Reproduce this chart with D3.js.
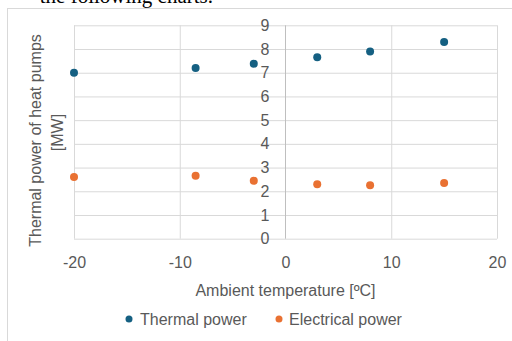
<!DOCTYPE html>
<html>
<head>
<meta charset="utf-8">
<script src="https://cdn.jsdelivr.net/npm/d3@7"></script>
<style>
  html, body { margin: 0; padding: 0; background: #fff; }
  svg { display: block; }
  text { font-family: "Liberation Sans", Arial, sans-serif; fill: #595959; }
</style>
</head>
<body>
<svg id="chart" width="512" height="341"></svg>
<script>
const temps = [-20, -8.5, -3, 3, 8, 15];
const thermalPower = [7.0, 7.2, 7.38, 7.65, 7.9, 8.3];
const electricalPower = [2.6, 2.66, 2.44, 2.3, 2.25, 2.35];
const xTicks = [-20, -10, 0, 10, 20];
const yTicks = [0, 1, 2, 3, 4, 5, 6, 7, 8, 9];
const seriesNames = ["Thermal power", "Electrical power"];
const colors = ["#156082", "#E97132"];

const svg = d3.select("#chart");

// surrounding document text (cut off at the top, as in the source page)
svg.append("text")
  .attr("x", 213).attr("y", 3)
  .attr("text-anchor", "end")
  .style("font-family", "'Liberation Serif', 'Times New Roman', serif")
  .style("font-size", "21px")
  .style("fill", "#000")
  .text("the following charts.");

// chart frame
svg.append("rect")
  .attr("x", 7.5).attr("y", 8.5)
  .attr("width", 520).attr("height", 350)
  .attr("fill", "none").attr("stroke", "#d9d9d9").attr("stroke-width", 1);

const x = d3.scaleLinear().domain([-20, 20]).range([74, 497]);
const y = d3.scaleLinear().domain([0, 9]).range([238.7, 25.3]);

// horizontal gridlines
svg.append("g")
  .attr("transform", `translate(${x(-20)},0)`)
  .call(d3.axisLeft(y).tickValues(yTicks).tickSize(-(x(20) - x(-20))).tickFormat(""))
  .call(g => g.select(".domain").remove())
  .call(g => g.selectAll("line").attr("stroke", "#d9d9d9"));

// vertical gridlines (except 0, which is the axis)
svg.append("g")
  .attr("transform", `translate(0,${y(0)})`)
  .call(d3.axisBottom(x).tickValues(xTicks.filter(d => d !== 0)).tickSize(-(y(0) - y(9))).tickFormat(""))
  .call(g => g.select(".domain").remove())
  .call(g => g.selectAll("line").attr("stroke", "#d9d9d9"));

// y axis line at x = 0
svg.append("line")
  .attr("x1", x(0)).attr("x2", x(0))
  .attr("y1", y(0)).attr("y2", y(9))
  .attr("stroke", "#bfbfbf").attr("stroke-width", 1);

// y tick labels
svg.append("g")
  .attr("transform", `translate(${x(0)},0)`)
  .call(d3.axisLeft(y).tickValues(yTicks).tickSize(0).tickPadding(16).tickFormat(d => String(d)))
  .call(g => g.select(".domain").remove())
  .call(g => g.selectAll("text")
    .style("font-size", "16px")
    .style("font-family", "'Liberation Sans', Arial, sans-serif")
    .attr("fill", "#595959"));

// x tick labels
svg.append("g")
  .attr("transform", `translate(0,${y(0)})`)
  .call(d3.axisBottom(x).tickValues(xTicks).tickSize(0).tickPadding(0).tickFormat(d => String(d)))
  .call(g => g.select(".domain").remove())
  .call(g => g.selectAll("text")
    .attr("y", 24).attr("dy", "0.35em")
    .style("font-size", "16px")
    .style("font-family", "'Liberation Sans', Arial, sans-serif")
    .attr("fill", "#595959"));

// x axis title
svg.append("text")
  .attr("x", x(0)).attr("y", 296)
  .attr("text-anchor", "middle")
  .style("font-size", "16px")
  .text("Ambient temperature [ºC]");

// y axis title
svg.append("text")
  .attr("transform", "translate(41,140.5) rotate(-90)")
  .attr("text-anchor", "middle")
  .style("font-size", "16px")
  .text("Thermal power of heat pumps");
svg.append("text")
  .attr("transform", "translate(62.5,132.5) rotate(-90)")
  .attr("text-anchor", "middle")
  .style("font-size", "16px")
  .text("[MW]");

// points
const series = [thermalPower, electricalPower];
series.forEach((vals, i) => {
  svg.append("g").selectAll("circle")
    .data(temps.map((t, j) => [t, vals[j]]))
    .join("circle")
    .attr("cx", d => x(d[0]))
    .attr("cy", d => y(d[1]))
    .attr("r", 4)
    .attr("fill", colors[i]);
});

// legend
const legendItems = [{ cx: 129, tx: 140 }, { cx: 279, tx: 289 }];
legendItems.forEach((it, i) => {
  svg.append("circle").attr("cx", it.cx).attr("cy", 319).attr("r", 3.5).attr("fill", colors[i]);
  svg.append("text").attr("x", it.tx).attr("y", 319).attr("dy", "0.35em")
    .style("font-size", "16px").text(seriesNames[i]);
});
</script>
</body>
</html>
